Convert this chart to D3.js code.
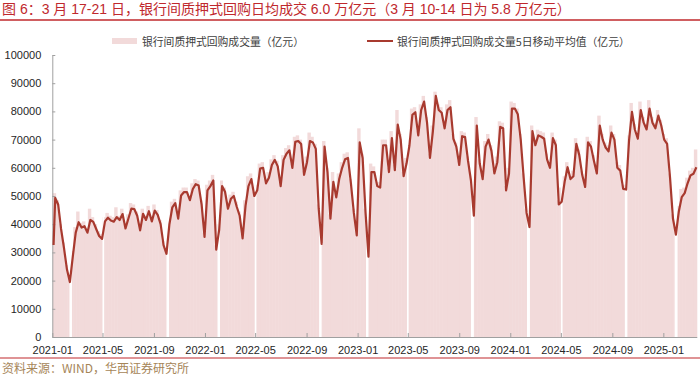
<!DOCTYPE html>
<html>
<head>
<meta charset="utf-8">
<script src="https://cdn.jsdelivr.net/npm/d3@7"></script>
<style>
    body { margin: 0; background: #ffffff; }
    #chart { width: 700px; height: 377px; }
</style>
</head>
<body>
<div id="chart"></div>
<script>
const titleText = "图 6：3 月 17-21 日，银行间质押式回购日均成交 6.0 万亿元（3 月 10-14 日为 5.8 万亿元）";
const sourceText = "资料来源：WIND，华西证券研究所";
const legendLabels = ["银行间质押式回购成交量（亿元）", "银行间质押式回购成交量5日移动平均值（亿元）"];

const yTicks = [0, 10000, 20000, 30000, 40000, 50000, 60000, 70000, 80000, 90000, 100000];
const xTickLabels = ["2021-01", "2021-05", "2021-09", "2022-01", "2022-05", "2022-09", "2023-01",
    "2023-05", "2023-09", "2024-01", "2024-05", "2024-09", "2025-01"];
const xDomain = ["2021-01-01", "2025-03-22"];

// first point of the 5-day average, then one value per week (Fridays from 2021-01-08)
const maStartDate = "2021-01-04";
const maStartValue = 32600;
const firstWeekEnd = "2021-01-08";

const maWeekly = [
    49300, 47000, 38300, 31500, 24000, 19500, 28500, 37000, 40700, 38800,
    39300, 37000, 41500, 40800, 38300, 35800, 34800, 41000, 42300, 41300,
    40900, 42500, 41500, 43600, 38500, 42000, 45500, 45400, 43000, 37800,
    43700, 41500, 44600, 41000, 44800, 43300, 40000, 32600, 29500, 40000,
    46000, 47500, 42000, 50200, 51400, 51400, 48500, 52500, 54200, 53700,
    47000, 35500, 52000, 53500, 55500, 31000, 38000, 53500, 51500, 45500,
    49000, 50000, 46200, 43000, 35000, 46500, 53500, 56000, 50000, 52000,
    59700, 60000, 54500, 56500, 61000, 62800, 60500, 53500, 62800, 65000,
    66200, 60000, 69200, 69500, 68400, 57500, 62000, 69500, 69000, 66700,
    45500, 33000, 67500, 58500, 42000, 55000, 49500, 56000, 60000, 63000,
    63500, 54500, 44000, 36000, 69000, 63500, 44000, 28500, 58500, 58500,
    53500, 53000, 68000, 68000, 58500, 70500, 59200, 75300, 70000, 57000,
    61500, 68000, 78800, 79700, 71500, 80500, 83500, 76000, 63500, 73000,
    85500, 80500, 79500, 74000, 80500, 81500, 70300, 67500, 61000, 71200,
    70900, 62500, 55500, 43000, 75000, 61500, 56000, 67500, 70000, 66000,
    58000, 62000, 74500, 74000, 52000, 58000, 81000, 81000, 79000, 70000,
    56500, 44000, 39000, 73000, 68000, 71500, 71000, 70300, 63000, 60000,
    70500, 68000, 47000, 48000, 55000, 60200, 56000, 57000, 68500, 64500,
    57500, 53200, 69000, 67500, 62500, 58000, 75000, 70000, 67200, 65800,
    72500, 70000, 60000, 59000, 52500, 52300, 69700, 79800, 73500, 70300,
    80500, 76000, 73600, 81000, 76000, 74000, 78500, 75000, 70000, 68500,
    56500, 42000, 36300, 44500, 49600, 51000, 54500, 57300, 57900, 60200
];

// highest daily volume of each week
const volumeWeekly = [
    51000, 48500, 40000, 33500, 25500, 21000, 30500, 39000, 44500, 40500,
    41000, 38500, 45500, 42500, 40000, 37500, 36500, 42500, 44000, 43000,
    42500, 46000, 43000, 45500, 40000, 43500, 47500, 47000, 44500, 39500,
    45500, 43000, 46500, 42500, 47000, 45000, 41500, 34000, 31000, 42000,
    48000, 49000, 43500, 52000, 53000, 53000, 50000, 54500, 56000, 55500,
    48500, 37000, 54000, 55500, 57500, 32500, 40000, 55500, 53000, 47000,
    50500, 51500, 48000, 44500, 36500, 48500, 57000, 58000, 51500, 54000,
    61500, 62000, 56000, 58500, 63000, 64500, 62500, 55000, 64500, 67000,
    68000, 61500, 71000, 71500, 70000, 59000, 64000, 72500, 71000, 68500,
    47000, 34500, 69500, 60000, 43500, 58500, 51000, 58000, 62000, 65000,
    65500, 56000, 45500, 37500, 74000, 65000, 45500, 30000, 61500, 60500,
    55000, 55000, 70000, 70000, 60000, 73000, 61000, 80500, 72000, 58500,
    63500, 70000, 81000, 81500, 73000, 82500, 85500, 78000, 65000, 75000,
    87000, 82500, 81500, 75500, 82500, 84000, 72000, 69000, 62500, 73000,
    72500, 64000, 57000, 44500, 78000, 63000, 57500, 69500, 72000, 68000,
    59500, 64000, 76500, 76000, 53500, 60000, 83500, 83000, 81000, 72000,
    58000, 45500, 40500, 75000, 70000, 73500, 73000, 72500, 65000, 62000,
    72500, 70000, 48500, 53000, 57000, 62000, 57500, 59000, 70500, 66500,
    59000, 55000, 71000, 69500, 64500, 60000, 78500, 72000, 69000, 68000,
    75000, 72000, 62000, 61000, 54000, 54000, 71500, 83000, 75500, 72500,
    83500, 78000, 75500, 84000, 78000, 76000, 80500, 77000, 72000, 70500,
    58000, 43500, 37500, 46500, 52500, 53000, 56500, 59000, 60000, 66500
];

// market closures that leave gaps between the bars
const holidays = [
    ["2021-02-11", "2021-02-17"], ["2021-05-01", "2021-05-05"], ["2021-10-01", "2021-10-07"],
    ["2022-01-31", "2022-02-06"], ["2022-04-30", "2022-05-04"], ["2022-10-01", "2022-10-07"],
    ["2023-01-21", "2023-01-27"], ["2023-04-29", "2023-05-03"], ["2023-09-29", "2023-10-06"],
    ["2024-02-10", "2024-02-17"], ["2024-05-01", "2024-05-05"], ["2024-10-01", "2024-10-07"],
    ["2025-01-28", "2025-02-04"]
];

const fontLatin = "'Liberation Sans', Arial, 'Noto Sans CJK SC', sans-serif";
const fontCJK = "'Noto Sans CJK SC', 'Liberation Sans', sans-serif";

function renderChart() {
    const width = 700;
    const height = 377;
    const plotLeft = 52.3;
    const plotRight = 696.8;
    const plotTop = 55;
    const plotBottom = 337;
    const barColor = "#f2dada";
    const lineColor = "#a83a2f";
    const ruleColor = "#c0282d";

    const parseDay = d3.timeParse("%Y-%m-%d");
    const parseMonth = d3.timeParse("%Y-%m");

    const svg = d3.select("#chart").append("svg")
        .attr("width", width)
        .attr("height", height);

    const weekEnds = maWeekly.map(function (d, i) {
        return d3.timeDay.offset(parseDay(firstWeekEnd), 7 * i);
    });
    const maData = [{ date: parseDay(maStartDate), value: maStartValue }].concat(
        maWeekly.map(function (d, i) { return { date: weekEnds[i], value: d }; })
    );
    const barData = volumeWeekly.map(function (d, i) {
        return { date: weekEnds[i], value: d };
    });

    const xScale = d3.scaleTime()
        .domain(xDomain.map(parseDay))
        .range([plotLeft, plotRight]);
    const yScale = d3.scaleLinear()
        .domain([0, 100000])
        .range([plotBottom, plotTop]);

    // title and rules
    svg.append("text")
        .attr("x", 2)
        .attr("y", 14)
        .attr("font-family", fontLatin)
        .attr("font-size", 14)
        .attr("fill", ruleColor)
        .text(titleText);
    svg.append("line")
        .attr("x1", 0).attr("x2", width)
        .attr("y1", 20).attr("y2", 20)
        .attr("stroke", ruleColor)
        .attr("stroke-width", 1.5);
    svg.append("line")
        .attr("x1", 0).attr("x2", width)
        .attr("y1", 358).attr("y2", 358)
        .attr("stroke", ruleColor)
        .attr("stroke-width", 1.2);
    svg.append("text")
        .attr("x", 2)
        .attr("y", 373)
        .attr("font-family", fontCJK)
        .attr("font-size", 12)
        .attr("fill", "#a68558")
        .text(sourceText);

    // legend
    const legend = svg.append("g")
        .attr("font-family", fontCJK)
        .attr("font-size", 10.8)
        .attr("fill", "#404040");
    legend.append("rect")
        .attr("x", 112).attr("y", 38)
        .attr("width", 25).attr("height", 6)
        .attr("fill", barColor);
    legend.append("text")
        .attr("x", 142).attr("y", 41)
        .attr("dominant-baseline", "central")
        .text(legendLabels[0]);
    legend.append("line")
        .attr("x1", 367).attr("x2", 393)
        .attr("y1", 41).attr("y2", 41)
        .attr("stroke", lineColor)
        .attr("stroke-width", 2);
    legend.append("text")
        .attr("x", 397).attr("y", 41)
        .attr("dominant-baseline", "central")
        .text(legendLabels[1]);

    // weekly volume bars
    svg.append("g")
        .selectAll("rect")
        .data(barData)
        .join("rect")
        .attr("x", function (d) { return xScale(d3.timeDay.offset(d.date, -6)); })
        .attr("width", function (d) {
            return xScale(d3.timeDay.offset(d.date, 1)) - xScale(d3.timeDay.offset(d.date, -6)) + 0.5;
        })
        .attr("y", function (d) { return yScale(d.value); })
        .attr("height", function (d) { return plotBottom - yScale(d.value); })
        .attr("fill", barColor);

    // holiday gaps
    svg.append("g")
        .selectAll("rect")
        .data(holidays)
        .join("rect")
        .attr("x", function (d) { return xScale(parseDay(d[0])); })
        .attr("width", function (d) { return xScale(parseDay(d[1])) - xScale(parseDay(d[0])); })
        .attr("y", plotTop)
        .attr("height", plotBottom - plotTop)
        .attr("fill", "#ffffff");

    // axes
    const yAxis = svg.append("g")
        .attr("transform", `translate(${plotLeft}, 0)`)
        .call(d3.axisLeft(yScale)
            .tickValues(yTicks)
            .tickFormat(d3.format("d"))
            .tickSizeInner(-3)
            .tickSizeOuter(0)
            .tickPadding(11));
    const xAxis = svg.append("g")
        .attr("transform", `translate(0, ${plotBottom})`)
        .call(d3.axisBottom(xScale)
            .tickValues(xTickLabels.map(parseMonth))
            .tickFormat(d3.timeFormat("%Y-%m"))
            .tickSizeInner(-4)
            .tickSizeOuter(0)
            .tickPadding(9));

    [yAxis, xAxis].forEach(function (axis) {
        axis.attr("font-family", fontLatin)
            .attr("font-size", 11);
        axis.selectAll("path, line")
            .attr("stroke", "#a0a0a0");
        axis.selectAll("text")
            .attr("fill", "#262626");
    });

    // 5-day moving average
    svg.append("path")
        .datum(maData)
        .attr("fill", "none")
        .attr("stroke", lineColor)
        .attr("stroke-width", 2.2)
        .attr("stroke-linejoin", "round")
        .attr("d", d3.line()
            .x(function (d) { return xScale(d.date); })
            .y(function (d) { return yScale(d.value); }));
}

renderChart();
</script>
</body>
</html>
